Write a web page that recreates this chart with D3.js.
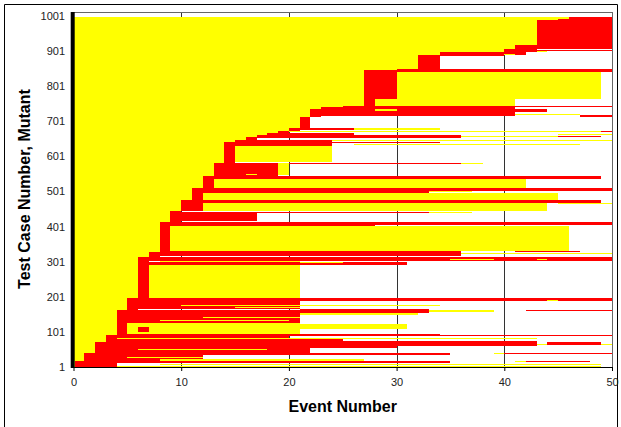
<!DOCTYPE html>
<html>
<head>
<meta charset="utf-8">
<script src="https://d3js.org/d3.v7.min.js"></script>
<style>
  body { margin: 0; background: #fff; }
  svg { display: block; font-family: "Liberation Sans", Arial, sans-serif; }
</style>
</head>
<body>
<div id="wrapper"></div>
<script>
const xTicks = [0, 10, 20, 30, 40, 50];
const yTicks = [1, 101, 201, 301, 401, 501, 601, 701, 801, 901, 1001];

// first event at which a block of test cases goes red: [fromCase, toCase, event]
const firstKill = [
  [1, 18, 0.15], [18, 41, 1], [41, 72, 2], [72, 92, 3], [92, 163, 4], [163, 196, 5],
  [196, 315, 6], [315, 329, 7], [329, 415, 8], [415, 446, 9], [446, 476, 10], [476, 510, 11],
  [510, 545, 12], [545, 582, 13], [582, 641, 14], [641, 648, 15], [648, 656, 16], [656, 661, 17],
  [661, 668, 18], [668, 674, 19], [674, 680, 20], [680, 714, 21], [714, 734, 22], [734, 738, 23],
  [738, 745, 25], [745, 846, 27], [846, 848, 30], [848, 850, 31], [850, 890, 32], [890, 895, 34],
  [895, 898, 38], [898, 903, 40], [903, 917, 41], [917, 988, 43], [988, 992, 45], [992, 996, 46]
];

// later runs: [state, fromCase, toCase, fromEvent, toEvent]
const runs = [
  ["kill", 1, 18, 0.15, 4], ["live", 2, 5, 4, 49], ["live", 7, 10, 8, 49], ["kill", 12, 19, 4, 35],
  ["live", 14, 18, 41, 42], ["kill", 14, 18, 42, 48], ["kill", 18, 41, 1, 2], ["kill", 19, 24, 2, 8],
  ["live", 19, 24, 8, 27], ["kill", 24, 35, 2, 12], ["live", 27, 30, 5, 12], ["kill", 35, 42, 2, 35],
  ["kill", 37, 40, 39, 50], ["live", 37, 40, 39, 40], ["kill", 41, 72, 2, 3], ["kill", 42, 56, 3, 22],
  ["live", 48, 52, 6, 18], ["kill", 56, 60, 3, 30], ["kill", 60, 76, 3, 43], ["live", 64, 67, 43, 44],
  ["kill", 64, 72, 44, 49], ["live", 64, 67, 49, 50], ["kill", 72, 92, 3, 4], ["kill", 76, 80, 4, 25],
  ["live", 80, 84, 4, 43], ["kill", 84, 88, 4, 20], ["kill", 88, 94, 4, 34], ["kill", 90, 92, 34, 50],

  ["kill", 92, 163, 4, 5], ["live", 94, 127, 5, 21], ["kill", 100, 114, 6, 7], ["live", 108, 122, 21, 31],
  ["kill", 127, 163, 5, 21], ["live", 132, 135, 8, 20], ["live", 140, 143, 12, 21], ["live", 148, 155, 21, 32],
  ["kill", 156, 165, 21, 33], ["live", 158, 162, 33, 39], ["kill", 160, 164, 42, 50],

  ["kill", 163, 196, 5, 6], ["kill", 165, 188, 6, 21], ["live", 175, 178, 10, 34], ["live", 168, 171, 15, 21],
  ["kill", 188, 197, 5, 50], ["live", 190, 193, 44, 45],

  ["kill", 196, 315, 6, 7], ["live", 197, 292, 7, 21], ["kill", 292, 300, 7, 31], ["live", 296, 300, 21, 25],
  ["live", 300, 304, 8, 21], ["kill", 304, 315, 7, 50], ["live", 306, 309, 35, 39], ["live", 306, 309, 43, 44],

  ["kill", 315, 329, 7, 8], ["kill", 316, 331, 8, 36], ["live", 322, 325, 36, 50], ["kill", 327, 330, 41, 47],

  ["kill", 329, 415, 8, 9], ["live", 332, 401, 9, 46], ["kill", 401, 406, 9, 28], ["kill", 406, 415, 8, 50],

  ["kill", 415, 446, 9, 10], ["kill", 418, 438, 10, 17], ["kill", 438, 443, 10, 33], ["live", 439, 443, 33, 37],

  ["kill", 446, 476, 10, 11], ["kill", 446, 470, 11, 12], ["live", 446, 467, 12, 44], ["live", 465, 467, 45, 50],
  ["kill", 469, 476, 11, 49],

  ["kill", 476, 510, 11, 12], ["live", 477, 497, 12, 45], ["kill", 497, 503, 12, 33], ["live", 499, 502, 33, 37],
  ["kill", 503, 510, 12, 50],

  ["kill", 510, 545, 12, 13], ["live", 510, 536, 13, 42], ["kill", 536, 545, 13, 49],

  ["kill", 545, 582, 13, 19], ["live", 548, 582, 19, 20], ["live", 548, 551, 16, 17], ["kill", 578, 582, 20, 36],
  ["live", 578, 582, 36, 38],

  ["kill", 582, 641, 14, 15], ["live", 584, 630, 15, 24], ["kill", 630, 642, 15, 24], ["kill", 638, 642, 24, 34],
  ["live", 633, 637, 26, 47],

  ["kill", 641, 648, 15, 17], ["kill", 642, 648, 17, 24], ["live", 645, 648, 24, 50], ["kill", 648, 656, 16, 17],
  ["kill", 656, 661, 17, 18], ["kill", 652, 660, 17, 36], ["live", 655, 659, 36, 45], ["kill", 655, 659, 45, 49],
  ["live", 660, 663, 45, 50], ["kill", 661, 668, 18, 19], ["kill", 661, 666, 19, 26], ["kill", 668, 674, 19, 20],
  ["live", 670, 673, 20, 49], ["kill", 670, 673, 49, 50], ["kill", 674, 680, 20, 21], ["kill", 675, 680, 21, 26],
  ["live", 676, 680, 26, 34],

  ["kill", 680, 714, 21, 22],

  ["kill", 714, 734, 22, 23], ["kill", 715, 740, 23, 41], ["live", 718, 722, 41, 47], ["kill", 714, 717, 47, 50],
  ["live", 731, 734, 28, 30], ["kill", 728, 734, 41, 44], ["kill", 738, 745, 25, 27], ["kill", 741, 745, 27, 50],

  ["kill", 745, 846, 27, 28], ["live", 745, 765, 28, 41], ["kill", 765, 846, 28, 30], ["live", 765, 841, 30, 49],
  ["kill", 841, 850, 30, 50],

  ["kill", 850, 890, 32, 34], ["kill", 886, 891, 34, 40], ["kill", 890, 898, 34, 42], ["live", 890, 893, 40, 41],
  ["live", 898, 901, 43, 44], ["kill", 901, 903, 43, 50], ["kill", 898, 905, 40, 43], ["kill", 905, 917, 41, 50],
  ["kill", 917, 988, 43, 50], ["kill", 988, 992, 45, 50], ["kill", 992, 996, 46, 50]
];

const W = 621, H = 427;
const plotTop = 12, plotBottom = 367;

var svg = d3.select("#wrapper").append("svg").attr("width", W).attr("height", H);

var x = d3.scaleLinear().domain([0, 50]).range([73.5, 612]);
var y = d3.scaleLinear().domain([1, 1001]).range([367, 15.7]);
const color = d3.scaleOrdinal().domain(["live", "kill"]).range(["#ffff00", "#ff0000"]);

// outer chart border
svg.append("path")
  .attr("d", "M4.5,440V4.5H617.5V440")
  .attr("fill", "none").attr("stroke", "#000").attr("stroke-width", 1);

// vertical gridlines + plot frame
svg.append("g").selectAll("line")
  .data(xTicks.slice(1))
  .enter().append("line")
  .attr("x1", d => Math.round(x(d)) + 0.5).attr("x2", d => Math.round(x(d)) + 0.5)
  .attr("y1", plotTop).attr("y2", plotBottom)
  .attr("stroke", d => d === 50 ? "#666" : "#333").attr("stroke-width", 1);
svg.append("line")
  .attr("x1", x(0)).attr("x2", x(50)).attr("y1", plotTop + 0.5).attr("y2", plotTop + 0.5)
  .attr("stroke", "#666");

var canvas = svg.append("g").attr("shape-rendering", "crispEdges");

// alive until the first kill
canvas.selectAll(".first")
  .data(firstKill)
  .enter().append("rect")
  .attr("class", "first")
  .attr("x", x(0))
  .attr("y", d => y(d[1]))
  .attr("width", d => x(d[2]) - x(0))
  .attr("height", d => y(d[0]) - y(d[1]))
  .attr("fill", color("live"));

canvas.selectAll(".run")
  .data(runs)
  .enter().append("rect")
  .attr("class", "run")
  .attr("x", d => x(d[3]))
  .attr("y", d => y(d[2]))
  .attr("width", d => x(d[4]) - x(d[3]))
  .attr("height", d => y(d[1]) - y(d[2]))
  .attr("fill", d => color(d[0]));

// axes
var xAxisCall = d3.axisBottom(x).tickValues(xTicks).tickSize(4).tickSizeOuter(0).tickPadding(7);
var xg = svg.append("g").attr("transform", "translate(0," + plotBottom + ")").call(xAxisCall);
xg.select(".domain").attr("stroke", "#000");
xg.selectAll("line").attr("stroke", "#000");
xg.selectAll("text").style("font-size", "11px").attr("fill", "#222");

var yAxisCall = d3.axisLeft(y).tickValues(yTicks).tickFormat(d3.format("d")).tickSize(0).tickPadding(8.5);
var yg = svg.append("g").attr("transform", "translate(" + x(0) + ",0)").call(yAxisCall);
yg.select(".domain").remove();
yg.selectAll("text").style("font-size", "11px").attr("fill", "#222");

svg.append("rect")
  .attr("x", x(0) - 2.8).attr("y", plotTop)
  .attr("width", 4).attr("height", plotBottom - plotTop + 1)
  .attr("fill", "#000");

svg.append("text")
  .attr("x", (x(0) + x(50)) / 2).attr("y", 412)
  .attr("text-anchor", "middle")
  .style("font-size", "16px").style("font-weight", "bold")
  .text("Event Number");

svg.append("text")
  .attr("transform", "translate(30,189) rotate(-90)")
  .attr("text-anchor", "middle")
  .style("font-size", "16px").style("font-weight", "bold")
  .text("Test Case Number, Mutant");
</script>
</body>
</html>
